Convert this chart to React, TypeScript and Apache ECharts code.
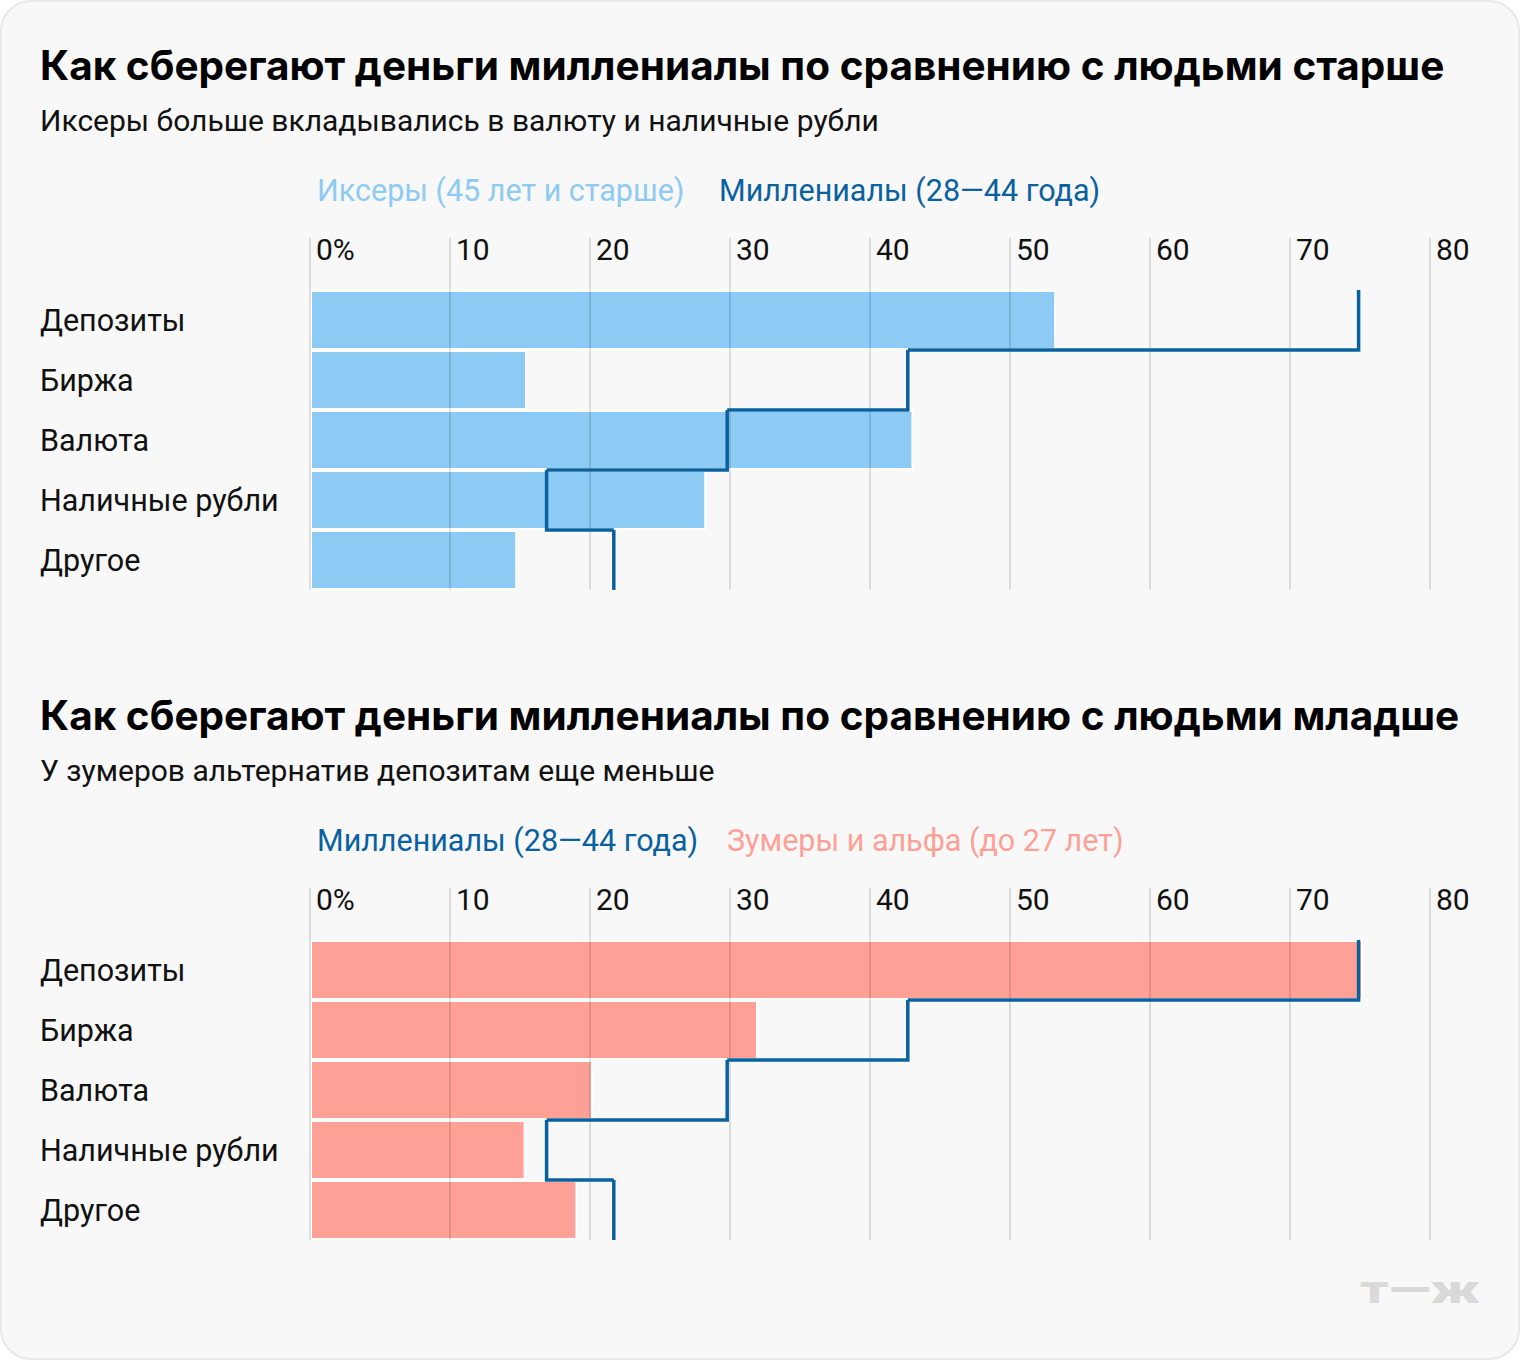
import React, { useEffect, useRef } from "react";
import * as echarts from "echarts";

const categories = ["Депозиты", "Биржа", "Валюта", "Наличные рубли", "Другое"];
const xers = [53.3, 15.5, 43.1, 28.3, 14.8];
const millennials = [74.9, 42.7, 29.8, 16.9, 21.7];
const zoomers = [75.2, 32.0, 20.2, 15.4, 19.1];

const title1 = "Как сберегают деньги миллениалы по сравнению с людьми старше";
const subtitle1 = "Иксеры больше вкладывались в валюту и наличные рубли";
const title2 = "Как сберегают деньги миллениалы по сравнению с людьми младше";
const subtitle2 = "У зумеров альтернатив депозитам еще меньше";
const nameXers = "Иксеры (45 лет и старше)";
const nameMill = "Миллениалы (28—44 года)";
const nameZoom = "Зумеры и альфа (до 27 лет)";

const FONT = "Roboto, 'Noto Sans', sans-serif";
const TITLE_FONT = "Inter, Roboto, sans-serif";
const C_LIGHT = "#8dcaf4";
const C_DARK = "#0a619f";
const C_PINK = "#ffa096";
const GRID_C = "rgba(0,0,0,0.11)";

function stepData(vals: number[]) {
  return vals.map((v, i) => [v, i, i < vals.length - 1 ? vals[i + 1] : NaN]);
}

function renderStep(params: any, api: any) {
  const v = api.value(0);
  const idx = api.value(1);
  const next = api.value(2);
  const c = api.coord([v, idx]);
  const h = api.size([0, 1])[1];
  const top = c[1] - h / 2;
  const bottom = c[1] + h / 2;
  const pts: number[][] = [[c[0], top], [c[0], bottom]];
  if (next != null && !isNaN(next)) {
    const n = api.coord([next, idx]);
    pts.push([n[0], bottom]);
  }
  return {
    type: "polyline",
    shape: { points: pts },
    style: { stroke: C_DARK, lineWidth: 3.5, fill: null, lineJoin: "miter", lineCap: "butt" },
  };
}

function xAxisCfg(gridIndex: number) {
  return {
    type: "value",
    gridIndex,
    min: 0,
    max: 80,
    interval: 10,
    position: "top",
    z: 3,
    axisLine: { show: false },
    axisTick: { show: true, length: 52, lineStyle: { color: GRID_C, width: 2 } },
    splitLine: { show: true, lineStyle: { color: GRID_C, width: 2 } },
    axisLabel: {
      formatter: (v: number) => (v === 0 ? "0%" : String(v)),
      align: "left",
      padding: [0, 0, 0, 6],
      margin: 26,
      fontSize: 30,
      color: "#111",
      fontFamily: FONT,
      showMaxLabel: true,
    },
  };
}

function yAxisCfg(gridIndex: number) {
  return {
    type: "category",
    gridIndex,
    data: categories,
    inverse: true,
    axisLine: { show: false },
    axisTick: { show: false },
    splitLine: { show: false },
    axisLabel: {
      align: "left",
      margin: 270,
      fontSize: 30.5,
      color: "#111",
      fontFamily: FONT,
    },
  };
}

function txt(text: string, x: number, y: number, size: number, color: string, weight: any = "normal", family = FONT) {
  return {
    type: "text",
    x,
    y,
    style: {
      text,
      fill: color,
      font: `${weight} ${size}px ${family}`,
      verticalAlign: "middle",
      align: "left",
    },
  };
}

export default function App() {
  const ref = useRef<HTMLDivElement>(null);
  useEffect(() => {
    if (!ref.current) return;
    const chart = echarts.init(ref.current, null, { renderer: "svg" });
    chart.setOption({
      animation: false,
      backgroundColor: "#ffffff",
      textStyle: { fontFamily: FONT },
      grid: [
        { left: 310, top: 290, width: 1120, height: 300 },
        { left: 310, top: 940, width: 1120, height: 300 },
      ],
      xAxis: [xAxisCfg(0), xAxisCfg(1)],
      yAxis: [yAxisCfg(0), yAxisCfg(1)],
      graphic: [
        {
          type: "rect",
          z: -10,
          shape: { x: 1, y: 1, width: 1518, height: 1358, r: 30 },
          style: { fill: "#f8f8f8", stroke: "#e8e8e8", lineWidth: 2 },
        },
        txt(title1, 40, 65, 40.5, "#000", "bold", TITLE_FONT),
        txt(subtitle1, 40, 120, 30, "#111"),
        txt(nameXers, 317, 190, 30.5, C_LIGHT),
        txt(nameMill, 719, 190, 30.5, C_DARK),
        txt(title2, 40, 715, 40.5, "#000", "bold", TITLE_FONT),
        txt(subtitle2, 40, 770, 30, "#111"),
        txt(nameMill, 317, 840, 30.5, C_DARK),
        txt(nameZoom, 727, 840, 30.5, C_PINK),
        {
          type: "text",
          x: 1360,
          y: 1290,
          scaleX: 1.45,
          style: {
            text: "т—ж",
            fill: "#d9d9d9",
            font: `900 38px ${FONT}`,
            verticalAlign: "middle",
            align: "left",
          },
        },
      ],
      series: [
        {
          type: "bar",
          name: nameXers,
          xAxisIndex: 0,
          yAxisIndex: 0,
          data: xers,
          barCategoryGap: "0%",
          itemStyle: { color: C_LIGHT, borderColor: "#ffffff", borderWidth: 2 },
          z: 2,
        },
        {
          type: "custom",
          name: nameMill,
          xAxisIndex: 0,
          yAxisIndex: 0,
          data: stepData(millennials),
          encode: { x: 0, y: 1 },
          renderItem: renderStep,
          z: 5,
        },
        {
          type: "bar",
          name: nameZoom,
          xAxisIndex: 1,
          yAxisIndex: 1,
          data: zoomers,
          barCategoryGap: "0%",
          itemStyle: { color: C_PINK, borderColor: "#ffffff", borderWidth: 2 },
          z: 2,
        },
        {
          type: "custom",
          name: nameMill,
          xAxisIndex: 1,
          yAxisIndex: 1,
          data: stepData(millennials),
          encode: { x: 0, y: 1 },
          renderItem: renderStep,
          z: 5,
        },
      ],
    });
    return () => chart.dispose();
  }, []);
  return (
    <div
      ref={ref}
      style={{ position: "absolute", left: 0, top: 0, width: 1520, height: 1360 }}
    />
  );
}
